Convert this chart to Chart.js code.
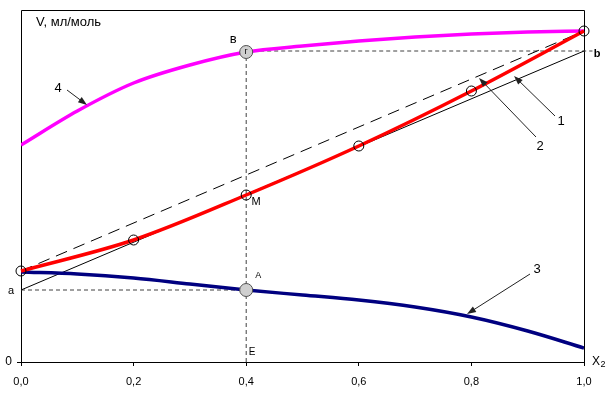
<!DOCTYPE html>
<html lang="ru">
<head>
<meta charset="UTF-8">
<title>V, мл/моль</title>
<script src="https://cdn.jsdelivr.net/npm/chart.js"></script>
<style>
    html, body { margin: 0; padding: 0; background: #fff; }
    canvas { display: block; }
</style>
</head>
<body>
<canvas id="chart" width="614" height="393"></canvas>
<script>
    // мольная доля X2
    var xPoints = [0, 0.2, 0.4, 0.6, 0.8, 1.0];
    var xFine = [0, 0.1, 0.2, 0.3, 0.4, 0.5, 0.6, 0.7, 0.8, 0.9, 1.0];
    var xTickLabels = ['0,0', '0,2', '0,4', '0,6', '0,8', '1,0'];

    // 1 - мольный объем раствора
    var volumeMix = [91, 122, 167, 216, 271, 331];
    // 4 - парциальный объем второго компонента
    var partialV2 = [217, 251, 279, 297, 310, 316, 321, 325, 328, 330, 331];
    // 3 - парциальный объем первого компонента
    var partialV1 = [90, 88, 84, 78, 72, 67, 62, 55, 45, 31, 14];
    // 2 - идеальный раствор (прямая между чистыми компонентами)
    var idealEnds = [91, 331];
    // касательная к кривой 1 в точке M (x = 0,4)
    var tangentEnds = [72, 311];
    var xM = 0.4;

    var yMax = 352;
    var fontFamily = 'Arial, "Liberation Sans", sans-serif';

    function pts(xs, ys) {
        return xs.map(function (x, i) { return { x: x, y: ys[i] }; });
    }

    var iM = xFine.indexOf(xM);
    var guideDash = [4, 3];
    var guideColor = '#404040';

    var annotations = {
        id: 'annotations',
        beforeDatasetsDraw: function (chart) {
            var ctx = chart.ctx, a = chart.chartArea;
            ctx.save();
            ctx.strokeStyle = '#000';
            ctx.lineWidth = 1;
            ctx.beginPath();
            ctx.moveTo(a.left + 0.5, a.bottom);
            ctx.lineTo(a.left + 0.5, a.top + 0.5);
            ctx.lineTo(a.right + 0.5, a.top + 0.5);
            ctx.lineTo(a.right + 0.5, a.bottom);
            // засечка у нуля
            ctx.moveTo(a.left - 4, a.bottom + 0.5);
            ctx.lineTo(a.left, a.bottom + 0.5);
            ctx.stroke();
            ctx.restore();
        },
        afterDraw: function (chart) {
            var ctx = chart.ctx, a = chart.chartArea;
            var sx = chart.scales.x, sy = chart.scales.y;
            function px(v) { return sx.getPixelForValue(v); }
            function py(v) { return sy.getPixelForValue(v); }

            function text(t, x, y, size, align, bold) {
                ctx.font = (bold ? 'bold ' : '') + size + 'px ' + fontFamily;
                ctx.textAlign = align || 'center';
                ctx.textBaseline = 'middle';
                ctx.fillStyle = '#000';
                ctx.fillText(t, x, y);
            }
            function arrow(x1, y1, x2, y2) {
                var ang = Math.atan2(y2 - y1, x2 - x1), len = 9, w = 3.2;
                ctx.strokeStyle = '#222';
                ctx.fillStyle = '#222';
                ctx.lineWidth = 1;
                ctx.beginPath();
                ctx.moveTo(x1, y1);
                ctx.lineTo(x2 - Math.cos(ang) * len * 0.8, y2 - Math.sin(ang) * len * 0.8);
                ctx.stroke();
                ctx.beginPath();
                ctx.moveTo(x2, y2);
                ctx.lineTo(x2 - Math.cos(ang) * len - Math.sin(ang) * w, y2 - Math.sin(ang) * len + Math.cos(ang) * w);
                ctx.lineTo(x2 - Math.cos(ang) * len + Math.sin(ang) * w, y2 - Math.sin(ang) * len - Math.cos(ang) * w);
                ctx.closePath();
                ctx.fill();
            }

            ctx.save();
            text('V, мл/моль', a.left + 15, a.top + 12, 13, 'left');
            text('0', a.left - 9, a.bottom, 12, 'right');
            text('a', a.left - 10, py(tangentEnds[0]) + 1, 11, 'center');
            text('b', a.right + 13, py(tangentEnds[1]) + 3, 11, 'center', true);

            text('X', a.right + 12, a.bottom + 0, 12, 'center');
            text('2', a.right + 19, a.bottom + 3, 9, 'center');

            text('в', px(xM) - 13, py(partialV2[iM]) - 13, 13, 'center');
            text('г', px(xM), py(partialV2[iM]), 9, 'center');
            text('М', px(xM) + 10, py(volumeMix[2]) + 7, 11, 'center');
            text('A', px(xM) + 12, py(partialV1[iM]) - 14, 9, 'center');
            text('E', px(xM) + 6, a.bottom - 10, 10, 'center');

            text('4', 58, 88, 13);
            arrow(67, 90, 87, 105);
            text('1', 561, 121, 13);
            arrow(555, 116, 514, 76);
            text('2', 540, 146, 13);
            arrow(536, 137, 479, 78);
            text('3', 537, 269, 13);
            arrow(530, 274, 467, 314);
            ctx.restore();
        }
    };

    var chart = new Chart(document.getElementById('chart').getContext('2d'), {
        type: 'line',
        data: {
            datasets: [
                {
                    // точки г и A
                    data: [{ x: xM, y: partialV2[iM] }, { x: xM, y: partialV1[iM] }],
                    showLine: false,
                    pointRadius: 6.5,
                    pointBackgroundColor: '#cfcfcf',
                    pointBorderColor: '#505050',
                    pointBorderWidth: 1,
                    clip: false
                },
                {
                    data: pts(xPoints, volumeMix),
                    borderColor: '#ff0000',
                    borderWidth: 3.5,
                    cubicInterpolationMode: 'monotone',
                    pointRadius: 5,
                    pointBackgroundColor: 'rgba(0,0,0,0)',
                    pointBorderColor: '#000',
                    pointBorderWidth: 1,
                    clip: false
                },
                {
                    data: pts(xFine, partialV2),
                    borderColor: '#ff00ff',
                    borderWidth: 3.5,
                    cubicInterpolationMode: 'monotone',
                    pointRadius: 0
                },
                {
                    data: pts(xFine, partialV1),
                    borderColor: '#000080',
                    borderWidth: 3.5,
                    cubicInterpolationMode: 'monotone',
                    pointRadius: 0
                },
                {
                    data: pts([0, 1], tangentEnds),
                    borderColor: '#000',
                    borderWidth: 1,
                    pointRadius: 0
                },
                {
                    data: pts([0, 1], idealEnds),
                    borderColor: '#000',
                    borderWidth: 1,
                    borderDash: [12, 7],
                    pointRadius: 0
                },
                {
                    data: [{ x: 0, y: tangentEnds[0] }, { x: xM, y: tangentEnds[0] }],
                    borderColor: guideColor,
                    borderWidth: 1,
                    borderDash: guideDash,
                    pointRadius: 0
                },
                {
                    data: [{ x: xM, y: tangentEnds[1] }, { x: 1.015, y: tangentEnds[1] }],
                    borderColor: guideColor,
                    borderWidth: 1,
                    borderDash: guideDash,
                    pointRadius: 0,
                    clip: false
                },
                {
                    data: [{ x: xM, y: 0 }, { x: xM, y: partialV2[iM] }],
                    borderColor: guideColor,
                    borderWidth: 1,
                    borderDash: guideDash,
                    pointRadius: 0
                }
            ]
        },
        options: {
            responsive: false,
            devicePixelRatio: 1,
            animation: false,
            events: [],
            layout: { padding: { left: 21, top: 10, right: 30, bottom: 0 } },
            plugins: {
                legend: { display: false },
                tooltip: { enabled: false },
                title: { display: false }
            },
            scales: {
                x: {
                    type: 'linear',
                    min: 0,
                    max: 1,
                    afterFit: function (scale) { scale.height = 31; },
                    grid: {
                        display: true,
                        drawOnChartArea: false,
                        drawTicks: true,
                        tickLength: 4,
                        color: '#000'
                    },
                    border: { display: true, color: '#000', width: 1 },
                    ticks: {
                        stepSize: 0.2,
                        padding: 9,
                        maxRotation: 0,
                        color: '#000',
                        font: { family: fontFamily, size: 11 },
                        callback: function (v, i) { return xTickLabels[i]; }
                    }
                },
                y: {
                    type: 'linear',
                    display: false,
                    min: 0,
                    max: yMax
                }
            }
        },
        plugins: [annotations]
    });
</script>
</body>
</html>
